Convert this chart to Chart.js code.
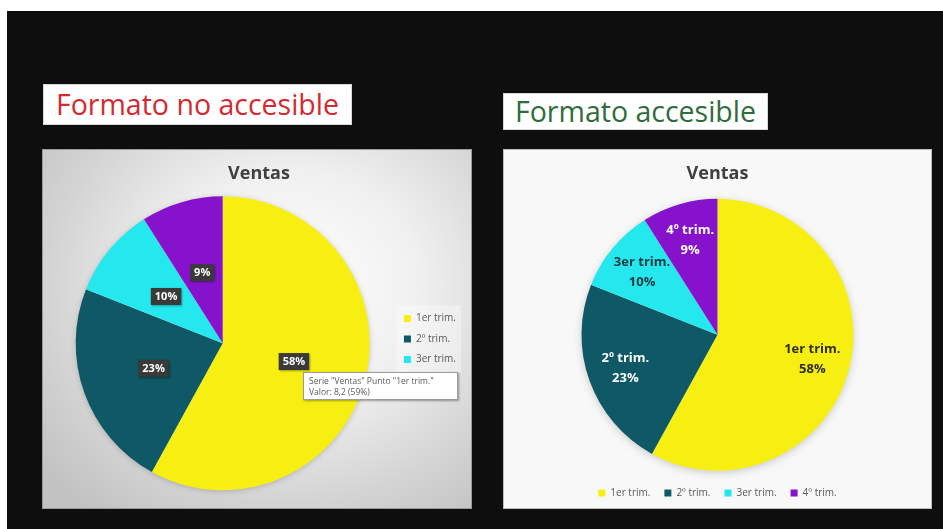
<!DOCTYPE html>
<html lang="es">
<head>
<meta charset="utf-8">
<title>Ventas por trimestre</title>
<script src="https://cdn.jsdelivr.net/npm/chart.js@4.4.1/dist/chart.umd.min.js"></script>
<style>
  html, body { margin: 0; padding: 0; }
  body {
    width: 943px; height: 529px; position: relative; overflow: hidden;
    background: #ffffff; font-family: "Open Sans", "DejaVu Sans", sans-serif;
  }
  .stage {
    position: absolute; left: 7px; top: 11px; right: 0; bottom: 0;
    background: #0e0e0e;
  }
  .heading {
    position: absolute; background: #ffffff; box-sizing: border-box;
    border: 1px solid #d8d8d8; font-size: 28.5px; line-height: 1;
    display: flex; align-items: center; justify-content: center;
  }
  #headBad { left: 43px; top: 84px; width: 309px; height: 41px; color: #d42a2f; }
  #headGood { left: 503px; top: 93px; width: 265px; height: 37px; color: #2f6d3c; }
  .panel { position: absolute; box-sizing: border-box; }
  #panelBad {
    left: 42px; top: 149px; width: 430px; height: 360px;
    background: radial-gradient(ellipse 75% 80% at 58% 38%, #ffffff 0%, #f0f0f0 40%, #d4d4d4 75%, #c2c2c2 100%);
    border: 1px solid #9a9a9a;
  }
  #panelGood {
    left: 503px; top: 149px; width: 429px; height: 360px;
    background: #f8f8f8; border: 1px solid #bdbdbd;
  }
  .panel canvas { position: absolute; left: 0; top: 0; }
  .hint {
    position: absolute; left: 303px; top: 372px; width: 155px; height: 28px;
    box-sizing: border-box; background: #ffffff; border: 1px solid #9c9c9c;
    box-shadow: 1px 1px 2px rgba(0,0,0,0.35);
    font-size: 8.5px; line-height: 11px; color: #5a5a5a; padding: 2px 5px;
    white-space: nowrap;
  }
</style>
</head>
<body>
<div class="stage"></div>
<div class="heading" id="headBad">Formato no accesible</div>
<div class="heading" id="headGood">Formato accesible</div>
<div class="panel" id="panelBad"><canvas id="chartBad" width="430" height="360"></canvas></div>
<div class="panel" id="panelGood"><canvas id="chartGood" width="429" height="360"></canvas></div>
<div class="hint">Serie "Ventas" Punto "1er trim."<br>Valor: 8,2 (59%)</div>
<script>
// Sales share per quarter (percent of the year)
const quarters = ['1er trim.', '2º trim.', '3er trim.', '4º trim.'];
const sharePct = [58, 23, 10, 9];
const chartTitle = 'Ventas';

const sliceColors = ['#f8ef12', '#0f5865', '#24e8ee', '#8612cc'];
const namedLabelColors = ['#2e2e2e', '#ffffff', '#18393e', '#ffffff'];
const FONT = '"Open Sans", "DejaVu Sans", sans-serif';

// Soft halo behind the pie, taken from the drawn arc geometry
const pieHalo = {
  id: 'pieHalo',
  beforeDatasetsDraw(chart, args, opts) {
    const arc = chart.getDatasetMeta(0).data[0];
    if (!arc) return;
    const { x, y, outerRadius } = arc.getProps(['x', 'y', 'outerRadius'], true);
    const ctx = chart.ctx;
    ctx.save();
    ctx.shadowColor = opts.color || 'rgba(0,0,0,0.3)';
    ctx.shadowBlur = opts.blur || 8;
    ctx.shadowOffsetY = opts.offsetY || 1;
    ctx.fillStyle = '#ffffff';
    ctx.beginPath();
    ctx.arc(x, y, outerRadius - 1, 0, Math.PI * 2);
    ctx.fill();
    ctx.restore();
  }
};

// Faint panel behind the side legend
const legendPlate = {
  id: 'legendPlate',
  beforeDraw(chart, args, opts) {
    if (!opts.fill) return;
    const lg = chart.legend;
    const boxes = lg.legendHitBoxes;
    if (!boxes || !boxes.length) return;
    const ctx = chart.ctx;
    ctx.save();
    ctx.fillStyle = opts.fill;
    const top = boxes[0].top - 8;
    const last = boxes[boxes.length - 1];
    ctx.fillRect(lg.left + 3, top, lg.width - 8, last.top + last.height - top + 8);
    ctx.restore();
  }
};

// Data labels placed along each slice's middle angle
const sliceLabels = {
  id: 'sliceLabels',
  afterDatasetsDraw(chart, args, opts) {
    const ctx = chart.ctx;
    const meta = chart.getDatasetMeta(0);
    meta.data.forEach((arc, i) => {
      const { x, y, startAngle, endAngle, outerRadius } =
        arc.getProps(['x', 'y', 'startAngle', 'endAngle', 'outerRadius'], true);
      const mid = (startAngle + endAngle) / 2;
      const r = outerRadius * opts.radiusFrac;
      const px = x + Math.cos(mid) * r;
      const py = y + Math.sin(mid) * r;
      const pct = sharePct[i] + '%';
      ctx.save();
      ctx.textAlign = 'center';
      ctx.textBaseline = 'middle';
      if (opts.mode === 'boxed') {
        ctx.font = 'bold 11px ' + FONT;
        const w = ctx.measureText(pct).width + 8;
        const h = 17;
        ctx.shadowColor = 'rgba(0,0,0,0.35)';
        ctx.shadowBlur = 2;
        ctx.shadowOffsetX = 1;
        ctx.shadowOffsetY = 1;
        ctx.fillStyle = '#3a3a3a';
        ctx.fillRect(px - w / 2, py - h / 2, w, h);
        ctx.shadowColor = 'transparent';
        ctx.fillStyle = '#ffffff';
        ctx.fillText(pct, px, py + 0.5);
      } else {
        ctx.font = 'bold 13px ' + FONT;
        ctx.fillStyle = namedLabelColors[i];
        ctx.fillText(chart.data.labels[i], px, py - 10);
        ctx.fillText(pct, px, py + 10);
      }
      ctx.restore();
    });
  }
};

function pieConfig(o) {
  return {
    type: 'pie',
    data: {
      labels: quarters,
      datasets: [{
        data: sharePct,
        backgroundColor: sliceColors,
        borderWidth: 0,
        radius: o.radius
      }]
    },
    plugins: [pieHalo, legendPlate, sliceLabels],
    options: {
      responsive: false,
      animation: false,
      events: [],
      layout: { padding: o.padding },
      plugins: {
        title: {
          display: true,
          text: chartTitle,
          color: '#404040',
          font: { family: FONT, size: 18, weight: 'bold' },
          padding: o.titlePad
        },
        legend: {
          position: o.legendPos,
          title: o.legendTitle || { display: false },
          labels: {
            color: '#595959',
            font: { family: FONT, size: 10 },
            boxWidth: 7,
            boxHeight: 7,
            padding: o.legendPad,
            filter: o.legendFilter || (() => true)
          }
        },
        tooltip: { enabled: false },
        pieHalo: o.halo,
        legendPlate: { fill: o.plate },
        sliceLabels: { mode: o.labelMode, radiusFrac: o.labelFrac }
      }
    }
  };
}

new Chart(document.getElementById('chartBad'), pieConfig({
  radius: 147,
  padding: { left: 9, right: 7, top: 0, bottom: 14 },
  titlePad: { top: 13, bottom: 6 },
  legendPos: 'right',
  legendPad: 10.5,
  // empty legend heading, used only to push the item column down
  legendTitle: { display: true, text: '', font: { size: 10 }, padding: { top: 10, bottom: 10 } },
  legendFilter: (item) => item.index < 3,
  halo: { color: 'rgba(0,0,0,0.25)', blur: 6, offsetY: 1 },
  plate: 'rgba(255,255,255,0.35)',
  labelMode: 'boxed',
  labelFrac: 0.5
}));

new Chart(document.getElementById('chartGood'), pieConfig({
  radius: 136,
  padding: { left: 0, right: 2, top: 0, bottom: 2 },
  titlePad: { top: 13, bottom: 11 },
  legendPos: 'bottom',
  legendPad: 14,
  halo: { color: 'rgba(0,0,0,0.22)', blur: 10, offsetY: 2 },
  plate: null,
  labelMode: 'named',
  labelFrac: 0.72
}));
</script>
</body>
</html>
